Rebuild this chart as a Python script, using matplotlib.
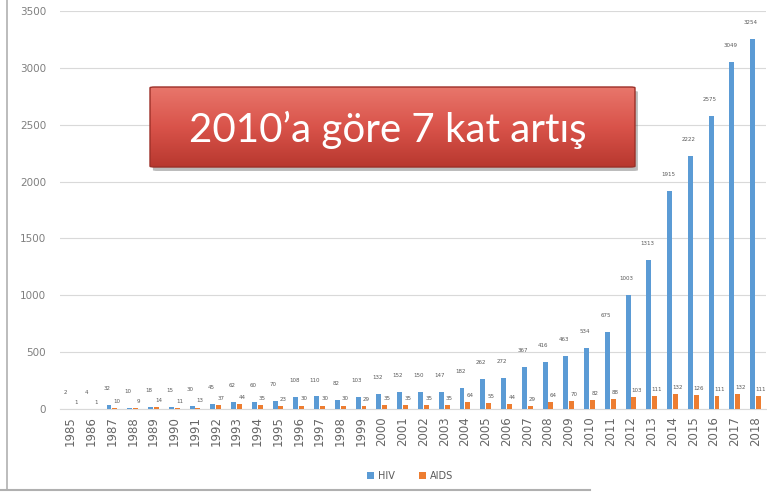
import numpy as np
import matplotlib.pyplot as plt
from matplotlib.patches import FancyBboxPatch
from matplotlib.lines import Line2D
from matplotlib.colors import LinearSegmentedColormap

years = list(range(1985, 2019))
hiv = [2, 4, 32, 10, 18, 15, 30, 45, 62, 60, 70, 108, 110, 82,
       103, 132, 152, 150, 147, 182, 262, 272, 367, 416, 463, 534,
       675, 1003, 1313, 1915, 2222, 2575, 3049, 3254]
aids = [1, 1, 10, 9, 14, 11, 13, 37, 44, 35, 23, 30, 30, 30,
        29, 35, 35, 35, 35, 64, 55, 44, 29, 64, 70, 82,
        88, 103, 111, 132, 126, 111, 132, 111]
series_names = ['HIV', 'AIDS']
callout = '2010\u2019a göre 7 kat artış'

W, H = 767, 493
fig = plt.figure(figsize=(W / 100, H / 100), dpi=100)

# chart frame (screenshot border)
fig.add_artist(Line2D([7 / W, 7 / W], [3 / H, 1], color='#b0b0b0', lw=1.2))
fig.add_artist(Line2D([0, 590 / W], [3 / H, 3 / H], color='#b0b0b0', lw=1.5))

ax = fig.add_axes([60 / W, 84 / H, 706 / W, 398 / H])
x = np.arange(len(years))
w = 0.24
ax.bar(x - w / 2 - 0.02, hiv, w, color='#5b9bd5', label=series_names[0], zorder=3)
ax.bar(x + w / 2 + 0.02, aids, w, color='#ed7d31', label=series_names[1], zorder=3)

# data labels: HIV a bit higher/left, AIDS lower/right so they don't collide
for i in range(len(years)):
    ax.annotate(str(hiv[i]), (x[i] - w / 2, hiv[i]), xytext=(-1.5, 10),
                textcoords='offset points', ha='center', va='bottom',
                fontsize=4.0, color='#595959')
    ax.annotate(str(aids[i]), (x[i] + w / 2, aids[i]), xytext=(2, 3),
                textcoords='offset points', ha='center', va='bottom',
                fontsize=4.0, color='#595959')

ax.set_xlim(-0.5, len(years) - 0.5)
ax.set_ylim(0, 3500)
ax.set_yticks(range(0, 3501, 500))
ax.yaxis.grid(True, color='#d9d9d9', lw=0.8)
ax.set_axisbelow(True)
for s in ['top', 'right', 'left']:
    ax.spines[s].set_visible(False)
ax.spines['bottom'].set_color('#d9d9d9')
ax.set_xticks(x, [str(y) for y in years], rotation=90)
ax.tick_params(length=0)
ax.tick_params(axis='x', pad=5, labelsize=8.5, labelcolor='#666666')
ax.tick_params(axis='y', pad=10, labelsize=7.5, labelcolor='#7f7f7f')

fig.legend(loc='center', bbox_to_anchor=(410 / W, 1 - 476 / H), ncol=2,
           frameon=False, fontsize=7, handlelength=0.7, handleheight=0.7,
           columnspacing=2.5, handletextpad=0.4, labelcolor='#595959')

# red callout box
bx = fig.add_axes([150 / W, 1 - 167 / H, 485 / W, 80 / H])
bx.axis('off')
bx.set_xlim(0, 1)
bx.set_ylim(0, 1)
shadow = FancyBboxPatch((0.006, -0.05), 1, 1, boxstyle='round,pad=0,rounding_size=0.01',
                        transform=bx.transAxes, facecolor='#404040', alpha=0.35,
                        edgecolor='none', clip_on=False)
bx.add_patch(shadow)
red = LinearSegmentedColormap.from_list('red', ['#e8766b', '#d9534a', '#b8382f'])
grad = np.linspace(0, 1, 100).reshape(-1, 1)
im = bx.imshow(grad, extent=[0, 1, 0, 1], aspect='auto', cmap=red, origin='upper', zorder=2)
box = FancyBboxPatch((0, 0), 1, 1, boxstyle='round,pad=0,rounding_size=0.01',
                     transform=bx.transAxes, facecolor='none', edgecolor='#9c3028',
                     lw=1.0, zorder=3, clip_on=False)
bx.add_patch(box)
im.set_clip_path(box)
bx.text(0.49, 0.47, callout, color='white', fontsize=29, family=['Lato', 'DejaVu Sans'],
        ha='center', va='center', zorder=4)

fig.savefig('out.png', dpi=100)
